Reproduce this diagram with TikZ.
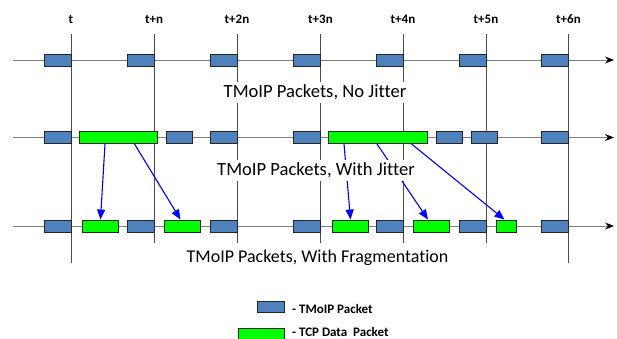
\documentclass[tikz,border=0pt]{standalone}
\usepackage{fontspec}
\setmainfont{Carlito}[Ligatures=NoCommon]
\usetikzlibrary{arrows.meta}
\definecolor{pktblue}{HTML}{4F81BD}
\definecolor{axisgray}{HTML}{808080}
\tikzset{
  tmoip/.style={draw=black!85, line width=0.9pt, fill=pktblue, minimum height=12pt, inner sep=0pt},
  tcpdata/.style={draw=black!85, line width=0.9pt, fill=green, minimum height=12pt, inner sep=0pt},
  timeaxis/.style={draw=axisgray, line width=0.9pt, -{Stealth[length=9pt,width=7pt,black]}},
  tickline/.style={draw=black!70, line width=0.9pt},
  ticklabel/.style={font=\bfseries\fontsize{13}{15}\selectfont},
  rowlabel/.style={fill=white, inner sep=2.5pt, font=\fontsize{18.6}{22}\selectfont},
  frag/.style={draw=blue, line width=1.1pt, -{Triangle[length=10pt,width=8pt]}},
  legendtext/.style={font=\bfseries\fontsize{13}{15}\selectfont, anchor=west, inner sep=0pt}
}
\newcommand{\pkt}[5]{\node[#1, minimum width={#4-#3}] (#2) at ({(#3+#4)/2},#5) {};}
\begin{document}
\begin{tikzpicture}[x=1pt,y=-1pt]
\useasboundingbox (0,0) rectangle (617,338);

% time axes
\coordinate (a1s) at (13,60);   \coordinate (a1e) at (614,60);
\coordinate (a2s) at (13,137.5); \coordinate (a2e) at (614,137.5);
\coordinate (a3s) at (13,226);  \coordinate (a3e) at (614,226);
\draw[timeaxis] (a1s) -- (a1e);
\draw[timeaxis] (a2s) -- (a2e);
\draw[timeaxis] (a3s) -- (a3e);

% time marks
\foreach \i/\lab/\x/\yend in {0/t/71/263, 1/t+n/154/243, 2/t+2n/237/243, 3/t+3n/320.5/243,
                             4/t+4n/403/243, 5/t+5n/486/243, 6/t+6n/568.5/263}{
  \coordinate (top\i) at (\x,34);
  \coordinate (bot\i) at (\x,\yend);
  \draw[tickline] (top\i) -- (bot\i);
  \node[ticklabel] (lab\i) at (\x,19) {\lab};
}

% row 1: no jitter
\pkt{tmoip}{r1a}{44}{71}{60}
\pkt{tmoip}{r1b}{127}{154}{60}
\pkt{tmoip}{r1c}{210}{237}{60}
\pkt{tmoip}{r1d}{293.5}{320.5}{60}
\pkt{tmoip}{r1e}{376}{403}{60}
\pkt{tmoip}{r1f}{459}{486}{60}
\pkt{tmoip}{r1g}{541.5}{568.5}{60}

% row 2: with jitter
\pkt{tmoip}{r2a}{44}{71}{137.5}
\pkt{tcpdata}{r2b}{79.5}{157.5}{137.5}
\pkt{tmoip}{r2c}{166}{192.5}{137.5}
\pkt{tmoip}{r2d}{210}{237}{137.5}
\pkt{tmoip}{r2e}{293.5}{320.5}{137.5}
\pkt{tcpdata}{r2f}{328.5}{427.5}{137.5}
\pkt{tmoip}{r2g}{436.5}{462.5}{137.5}
\pkt{tmoip}{r2h}{471}{497}{137.5}
\pkt{tmoip}{r2i}{541.5}{568.5}{137.5}

% row 3: with fragmentation
\pkt{tmoip}{r3a}{44}{71}{226}
\pkt{tcpdata}{r3b}{82.5}{118.5}{226}
\pkt{tmoip}{r3c}{127.5}{154}{226}
\pkt{tcpdata}{r3d}{164.5}{200.5}{226}
\pkt{tmoip}{r3e}{210}{237}{226}
\pkt{tmoip}{r3f}{293.5}{320.5}{226}
\pkt{tcpdata}{r3g}{332.5}{368.5}{226}
\pkt{tmoip}{r3h}{376.5}{403}{226}
\pkt{tcpdata}{r3i}{413}{449}{226}
\pkt{tmoip}{r3j}{459.5}{486}{226}
\pkt{tcpdata}{r3k}{496.5}{516.5}{226}
\pkt{tmoip}{r3l}{541.5}{568.5}{226}

% fragmentation arrows
\draw[frag] ([xshift=-13.5pt]r2b.south) -- (r3b.north);
\draw[frag] ([xshift=16pt]r2b.south) -- ([xshift=-2pt]r3d.north);
\draw[frag] ([xshift=-34pt]r2f.south) -- (r3g.north);
\draw[frag] ([xshift=-1pt]r2f.south) -- ([xshift=-3pt]r3i.north);
\draw[frag] ([xshift=33.5pt]r2f.south) -- ([xshift=-2pt]r3k.north);

% row labels
\node[rowlabel] (lbl1) at (315,92.5) {TMoIP Packets, No Jitter};
\node[rowlabel] (lbl2) at (316,170.5) {TMoIP Packets, With Jitter};
\node[rowlabel, font=\fontsize{18}{22}\selectfont] (lbl3) at (317.5,258) {TMoIP Packets, With Fragmentation};

% legend
\node[tmoip, minimum width=27pt, minimum height=11pt] (keyblue) at (270.5,307) {};
\node[legendtext] (keybluetxt) at (292,308.5) {- TMoIP Packet};
\node[tcpdata, minimum width=46pt, minimum height=11pt] (keygreen) at (261,334) {};
\node[legendtext] (keygreentxt) at (292,331.5) {- TCP Data\ \ Packet};
\end{tikzpicture}
\end{document}
